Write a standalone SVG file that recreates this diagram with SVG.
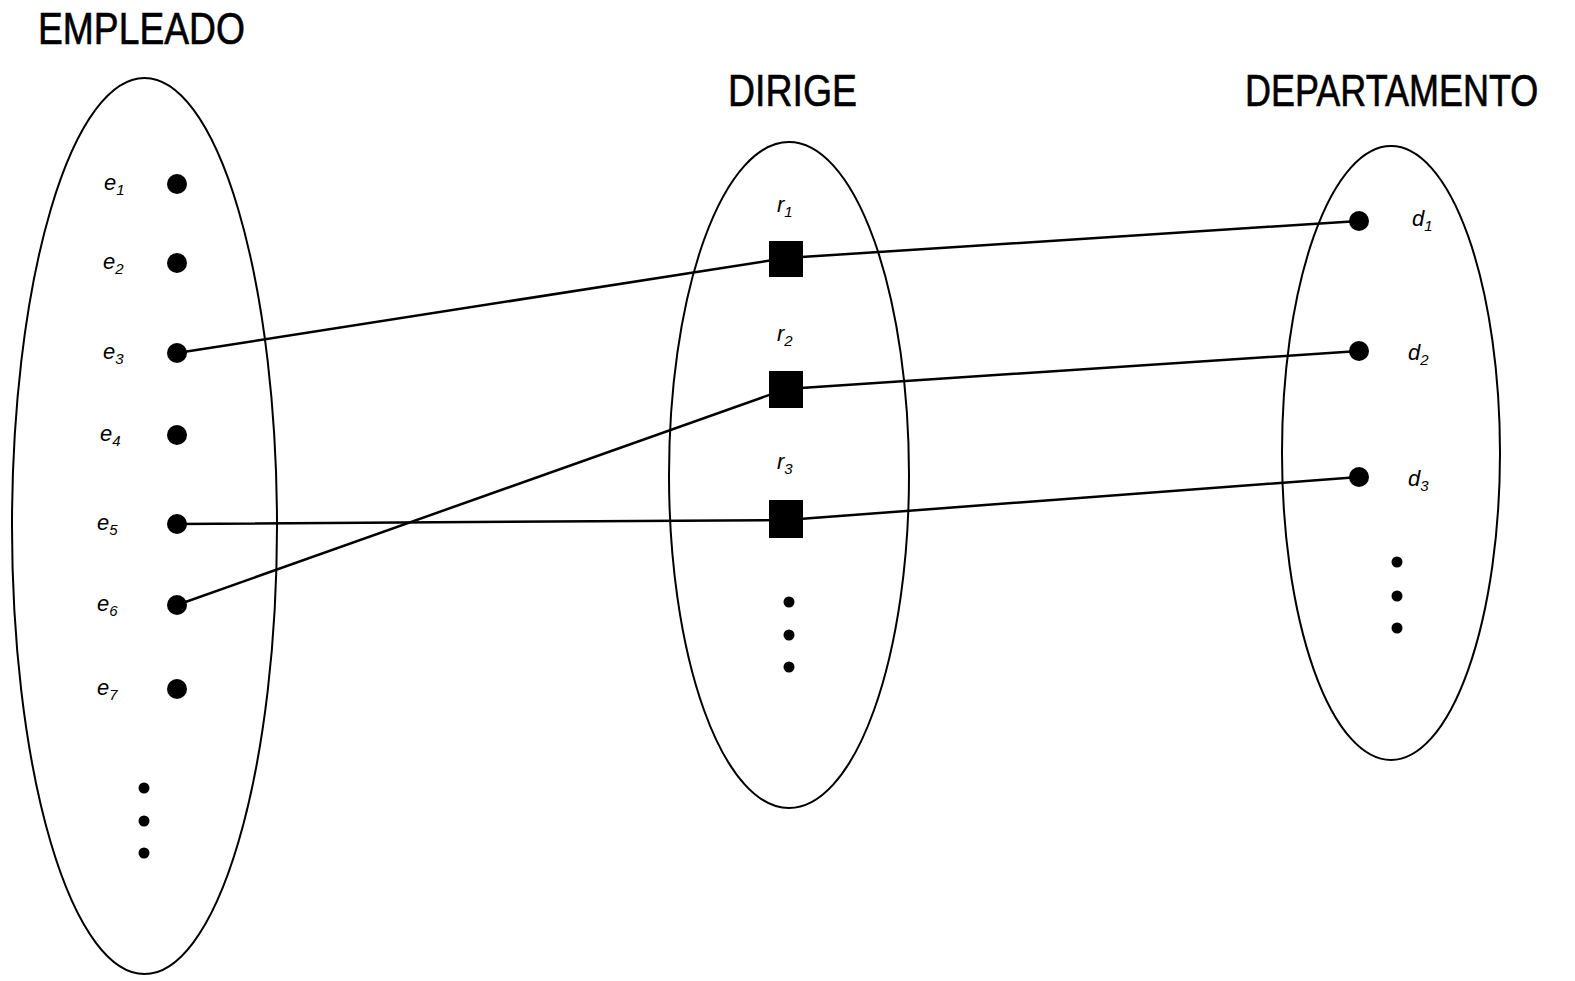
<svg xmlns="http://www.w3.org/2000/svg" width="1575" height="981" viewBox="0 0 1575 981">
<style>
.set{fill:none;stroke:#000;stroke-width:2}
.title{font-family:"Liberation Sans",Arial,sans-serif;font-size:36px;fill:#000;stroke:#000;stroke-width:0.5}
.lbl{font-family:"Liberation Sans",Arial,sans-serif;font-style:italic;font-size:22px;fill:#000}
.sub{font-size:15px}
.conn{stroke:#000;stroke-width:2.5;fill:none}
</style>
<rect width="1575" height="981" fill="#fff"/>
<g id="empleado">
<ellipse class="set" cx="144.5" cy="526" rx="132.5" ry="448"/>
<text class="title" transform="translate(38,44) scale(1,1.25)" x="0" y="0" textLength="207" lengthAdjust="spacingAndGlyphs">EMPLEADO</text>
<g fill="#000">
<circle cx="177" cy="184" r="10"/><circle cx="177" cy="263" r="10"/><circle cx="177" cy="353" r="10"/>
<circle cx="177" cy="435" r="10"/><circle cx="177" cy="524" r="10"/><circle cx="177" cy="605" r="10"/>
<circle cx="177" cy="689" r="10"/>
<circle cx="144" cy="788" r="5.5"/><circle cx="144" cy="821" r="5.5"/><circle cx="144" cy="853" r="5.5"/>
</g>
<text class="lbl" x="104" y="190">e<tspan class="sub" dy="5">1</tspan></text>
<text class="lbl" x="103" y="269">e<tspan class="sub" dy="5">2</tspan></text>
<text class="lbl" x="103" y="359">e<tspan class="sub" dy="5">3</tspan></text>
<text class="lbl" x="100" y="441">e<tspan class="sub" dy="5">4</tspan></text>
<text class="lbl" x="97" y="530">e<tspan class="sub" dy="5">5</tspan></text>
<text class="lbl" x="97" y="611">e<tspan class="sub" dy="5">6</tspan></text>
<text class="lbl" x="97" y="695">e<tspan class="sub" dy="5">7</tspan></text>
</g>
<g id="dirige">
<ellipse class="set" cx="789" cy="475" rx="120" ry="333"/>
<text class="title" transform="translate(728,106) scale(1,1.25)" x="0" y="0" textLength="129" lengthAdjust="spacingAndGlyphs">DIRIGE</text>
<g fill="#000">
<rect x="769" y="241" width="34" height="36"/>
<rect x="769" y="371" width="34" height="37"/>
<rect x="769" y="500" width="34" height="38"/>
<circle cx="789" cy="602" r="5.5"/><circle cx="789" cy="635" r="5.5"/><circle cx="789" cy="667" r="5.5"/>
</g>
<text class="lbl" x="777" y="212">r<tspan class="sub" dy="5">1</tspan></text>
<text class="lbl" x="777" y="341">r<tspan class="sub" dy="5">2</tspan></text>
<text class="lbl" x="777" y="469">r<tspan class="sub" dy="5">3</tspan></text>
</g>
<g id="departamento">
<ellipse class="set" cx="1391" cy="453" rx="109" ry="307"/>
<text class="title" transform="translate(1245,106) scale(1,1.25)" x="0" y="0">DEPARTAMENTO</text>
<g fill="#000">
<circle cx="1359" cy="221" r="10"/><circle cx="1359" cy="351" r="10"/><circle cx="1359" cy="477" r="10"/>
<circle cx="1397" cy="562" r="5.5"/><circle cx="1397" cy="596" r="5.5"/><circle cx="1397" cy="628" r="5.5"/>
</g>
<text class="lbl" x="1412" y="226">d<tspan class="sub" dy="5">1</tspan></text>
<text class="lbl" x="1408" y="360">d<tspan class="sub" dy="5">2</tspan></text>
<text class="lbl" x="1408" y="486">d<tspan class="sub" dy="5">3</tspan></text>
</g>
<g id="connectors">
<polyline class="conn" points="177,353 786,258 1359,221"/>
<polyline class="conn" points="177,605 786,389 1359,351"/>
<polyline class="conn" points="177,524 786,520 1359,477"/>
</g>
</svg>
